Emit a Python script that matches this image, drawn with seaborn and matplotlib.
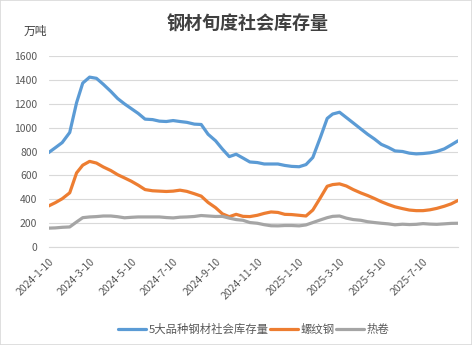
import calendar

import matplotlib
matplotlib.use("Agg")
import matplotlib.pyplot as plt
from matplotlib.patches import Rectangle
import pandas as pd
import seaborn as sns

# Ten-day (旬) reporting dates: 10th, 20th and 30th (month end for February)
months = [(2024, m) for m in range(1, 13)] + [(2025, m) for m in range(1, 9)]
dates = []
for yr, mo in months:
    last_day = calendar.monthrange(yr, mo)[1]
    for day in (10, 20, min(30, last_day)):
        dates.append(pd.Timestamp(yr, mo, day))

series_names = ["5大品种钢材社会库存量", "螺纹钢", "热卷"]

total_stock = [790, 832, 875, 960, 1210, 1375, 1425, 1415, 1365, 1305,
               1245, 1200, 1160, 1120, 1072, 1068, 1055, 1052, 1060, 1052,
               1045, 1030, 1027, 945, 890, 820, 757, 777, 745, 712,
               707, 695, 695, 695, 683, 675, 672, 690, 750, 918,
               1078, 1115, 1130, 1085, 1040, 990, 945, 905, 860, 835,
               805, 800, 786, 780, 783, 789, 800, 822, 855, 890]

rebar = [342, 370, 403, 453, 620, 685, 717, 703, 670, 640,
         605, 578, 550, 517, 480, 470, 467, 464, 467, 475,
         465, 445, 425, 372, 328, 276, 252, 272, 255, 253,
         264, 280, 292, 288, 272, 270, 264, 258, 308, 411,
         508, 522, 528, 510, 480, 452, 430, 405, 378, 355,
         335, 320, 308, 303, 303, 310, 322, 340, 360, 389]

hot_coil = [156, 158, 163, 166, 208, 244, 250, 253, 258, 258,
            252, 243, 247, 250, 250, 250, 250, 245, 242, 248,
            250, 254, 262, 258, 254, 255, 240, 228, 222, 203,
            197, 185, 176, 175, 178, 178, 175, 183, 203, 225,
            244, 255, 258, 240, 228, 222, 210, 203, 197, 192,
            184, 189, 186, 188, 194, 190, 188, 192, 196, 197]

tick_labels = ["2024-1-10", "2024-3-10", "2024-5-10", "2024-7-10", "2024-9-10",
               "2024-11-10", "2025-1-10", "2025-3-10", "2025-5-10", "2025-7-10"]
y_ticks = [0, 200, 400, 600, 800, 1000, 1200, 1400, 1600]

colors = ["#5B9BD5", "#ED7D31", "#A5A5A5"]

df = pd.DataFrame({
    "date": dates * 3,
    "value": total_stock + rebar + hot_coil,
    "series": [series_names[0]] * len(dates) + [series_names[1]] * len(dates)
              + [series_names[2]] * len(dates),
})

sns.set_theme(style="white")
plt.rcParams["font.family"] = ["Noto Sans CJK SC", "DejaVu Sans"]
plt.rcParams["axes.unicode_minus"] = False

fig = plt.figure(figsize=(4.72, 3.45), dpi=100)
fig.patch.set_facecolor("white")
ax = fig.add_axes([48.5 / 472, 1 - 246.7 / 345, (458 - 48.5) / 472, (246.7 - 56.3) / 345])

sns.lineplot(data=df, x="date", y="value", hue="series", hue_order=series_names,
             palette=colors, linewidth=2.3, ax=ax)
for ln in ax.lines:
    ln.set_solid_joinstyle("round")
    ln.set_solid_capstyle("round")

handles, labels = ax.get_legend_handles_labels()
if ax.get_legend() is not None:
    ax.get_legend().remove()

ax.set_xlim(dates[0], dates[-1])
ax.set_ylim(0, 1600)
ax.set_yticks(y_ticks)
ax.set_yticklabels([str(v) for v in y_ticks])
ax.set_xticks([pd.Timestamp(t) for t in tick_labels])
ax.set_xticklabels(tick_labels, rotation=45, ha="right", rotation_mode="anchor")
ax.set_xlabel("")
ax.set_ylabel("")

ax.yaxis.grid(True, color="#D9D9D9", linewidth=0.8)
ax.xaxis.grid(False)
ax.set_axisbelow(True)
for side in ("top", "right", "left"):
    ax.spines[side].set_visible(False)
ax.spines["bottom"].set_color("#D9D9D9")
ax.spines["bottom"].set_linewidth(0.8)

ax.tick_params(axis="x", direction="out", length=4, width=0.8, color="#D9D9D9",
               labelsize=7.5, labelcolor="#595959", pad=3)
ax.tick_params(axis="y", length=0, labelsize=7.5, labelcolor="#595959", pad=8)

fig.text(248 / 472, 1 - 24 / 345, "钢材旬度社会库存量", ha="center", va="center",
         fontsize=13, fontweight="bold", color="#404040")
fig.text(35 / 472, 1 - 31 / 345, "万吨", ha="center", va="center",
         fontsize=8.5, color="#404040")

fig.legend(handles, labels, loc="center", bbox_to_anchor=(254 / 472, 1 - 329 / 345),
           ncol=3, frameon=False, fontsize=8.2, handlelength=2.4, handletextpad=0.3,
           columnspacing=0.1, labelcolor="#595959")

fig.patches.append(Rectangle((0, 0), 1, 1, transform=fig.transFigure, fill=False,
                             edgecolor="#D9D9D9", linewidth=1.2))

fig.savefig("out.png", dpi=100)
